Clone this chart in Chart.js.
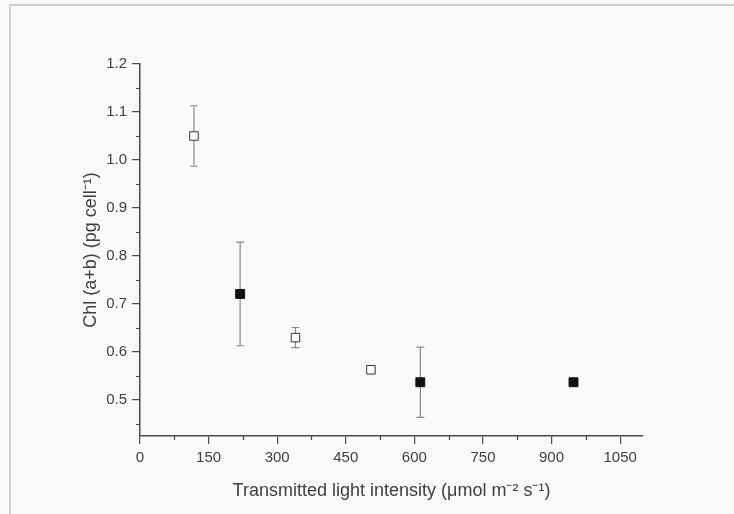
<!DOCTYPE html>
<html>
<head>
<meta charset="utf-8">
<script src="https://cdn.jsdelivr.net/npm/chart.js"></script>
<style>
  html, body { margin: 0; padding: 0; background: #f9f9f9; }
  #wrap { position: absolute; left: 0; top: 0; width: 734px; height: 514px; }
  #frame { position: absolute; left: 9px; top: 4px; right: -4px; bottom: -4px;
           border-top: 2px solid #cfcfcf; border-left: 2px solid #cfcfcf; }
  canvas { position: absolute; left: 0; top: 0; }
</style>
</head>
<body>
<div id="wrap">
  <div id="frame"></div>
  <canvas id="chart" width="734" height="514"></canvas>
</div>
<script>
// values
const openX = [118, 340, 505];
const openY = [1.05, 0.630, 0.563];
const openErr = [0.063, 0.021, 0];

const filledX = [219, 613, 948];
const filledY = [0.721, 0.537, 0.537];
const filledErr = [0.108, 0.073, 0];

const xTicks = [0, 150, 300, 450, 600, 750, 900, 1050];
const xMinor = [75, 225, 375, 525, 675, 825, 975];
const yTicks = [0.5, 0.6, 0.7, 0.8, 0.9, 1.0, 1.1, 1.2];
const yMinor = [0.45, 0.55, 0.65, 0.75, 0.85, 0.95, 1.05, 1.15];

const axisColor = '#4a4a4a';
const textColor = '#404040';
const fontFamily = '"Liberation Sans", Arial, sans-serif';

// error bars + minor ticks, drawn through the chart scales
const extras = {
    id: 'extras',
    beforeDatasetsDraw(chart) {
        const ctx = chart.ctx;
        const xs = chart.scales.x, ys = chart.scales.y;
        const sets = [[openX, openY, openErr], [filledX, filledY, filledErr]];
        ctx.save();
        ctx.strokeStyle = '#8a8a8a';
        ctx.lineWidth = 1.2;
        sets.forEach(([xv, yv, ev]) => {
            xv.forEach((x, i) => {
                if (!ev[i]) return;
                const px = xs.getPixelForValue(x);
                const top = ys.getPixelForValue(yv[i] + ev[i]);
                const bot = ys.getPixelForValue(yv[i] - ev[i]);
                ctx.beginPath();
                ctx.moveTo(px, top); ctx.lineTo(px, bot);
                ctx.moveTo(px - 4, top); ctx.lineTo(px + 4, top);
                ctx.moveTo(px - 4, bot); ctx.lineTo(px + 4, bot);
                ctx.stroke();
            });
        });
        ctx.restore();
    },
    afterDraw(chart) {
        const ctx = chart.ctx;
        const xs = chart.scales.x, ys = chart.scales.y;
        ctx.save();
        ctx.strokeStyle = axisColor;
        ctx.lineWidth = 1.2;
        ctx.beginPath();
        xMinor.forEach(v => {
            const px = Math.round(xs.getPixelForValue(v)) + 0.5;
            ctx.moveTo(px, xs.top); ctx.lineTo(px, xs.top + 4);
        });
        yMinor.forEach(v => {
            const py = Math.round(ys.getPixelForValue(v)) + 0.5;
            ctx.moveTo(ys.right, py); ctx.lineTo(ys.right - 4, py);
        });
        ctx.stroke();
        ctx.restore();
    }
};

new Chart(document.getElementById('chart'), {
    type: 'scatter',
    data: {
        datasets: [{
            label: 'open',
            data: openX.map((x, i) => ({ x: x, y: openY[i] })),
            pointStyle: 'rect',
            pointRadius: 6,
            pointBackgroundColor: '#ffffff',
            pointBorderColor: '#333333',
            pointBorderWidth: 1
        }, {
            label: 'filled',
            data: filledX.map((x, i) => ({ x: x, y: filledY[i] })),
            pointStyle: 'rect',
            pointRadius: 6.3,
            pointBackgroundColor: '#111111',
            pointBorderColor: '#111111',
            pointBorderWidth: 1
        }]
    },
    options: {
        responsive: false,
        animation: false,
        layout: { padding: { top: 64, right: 91, left: 0, bottom: 0 } },
        plugins: { legend: { display: false }, tooltip: { enabled: false } },
        scales: {
            x: {
                type: 'linear',
                min: 0,
                max: 1100,
                afterBuildTicks: s => { s.ticks = xTicks.map(v => ({ value: v })); },
                afterFit: s => { s.height = 78; },
                border: { display: true, color: axisColor, width: 1.5 },
                grid: { drawOnChartArea: false, drawTicks: true, tickLength: 8, color: axisColor, lineWidth: 1.2 },
                ticks: {
                    color: textColor, padding: 5, maxRotation: 0,
                    font: { family: fontFamily, size: 15 },
                    callback: v => String(v)
                },
                title: {
                    display: true,
                    text: 'Transmitted light intensity (\u03bcmol m\u207b\u00b2 s\u207b\u00b9)',
                    color: textColor,
                    font: { family: fontFamily, size: 18 },
                    padding: { top: 4, bottom: 12 }
                }
            },
            y: {
                type: 'linear',
                min: 0.425,
                max: 1.2,
                afterBuildTicks: s => { s.ticks = yTicks.map(v => ({ value: v })); },
                afterFit: s => { s.width = 140; },
                border: { display: true, color: axisColor, width: 1.5 },
                grid: { drawOnChartArea: false, drawTicks: true, tickLength: 8, color: axisColor, lineWidth: 1.2 },
                ticks: {
                    color: textColor, padding: 5,
                    font: { family: fontFamily, size: 15 },
                    callback: v => v.toFixed(1)
                },
                title: {
                    display: true,
                    text: 'Chl (a+b) (pg cell\u207b\u00b9)',
                    color: textColor,
                    font: { family: fontFamily, size: 18 },
                    padding: { top: 80, bottom: 4 }
                }
            }
        }
    },
    plugins: [extras]
});
</script>
</body>
</html>
